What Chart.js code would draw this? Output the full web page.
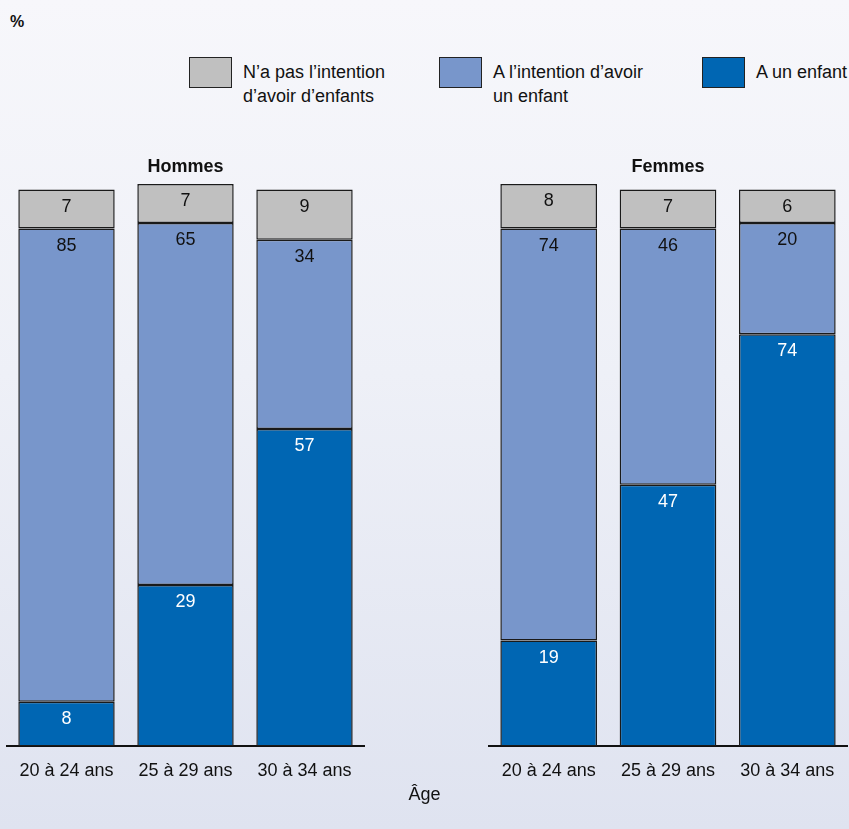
<!DOCTYPE html>
<html>
<head>
<meta charset="utf-8">
<script src="https://cdn.jsdelivr.net/npm/chart.js@4.4.0/dist/chart.umd.min.js"></script>
<style>
  html, body { margin:0; padding:0; }
  body {
    width:849px; height:829px; position:relative; overflow:hidden;
    background: linear-gradient(to bottom, #f7f7fb 0%, #eef0f7 45%, #dfe3f0 100%);
    font-family: "Liberation Sans", Arial, sans-serif;
    color:#111;
  }
  .pct { position:absolute; left:10px; top:13px; font-weight:bold; font-size:16px; }
  .leg { position:absolute; top:57px; display:flex; align-items:flex-start; white-space:nowrap; }
  .leg .box { width:43px; height:31px; border:1.5px solid #222; box-sizing:border-box; margin-right:11px; }
  .leg .txt { font-size:18px; line-height:24px; margin-top:3px; }
  .age { position:absolute; left:0; width:849px; top:784px; text-align:center; font-size:18px; }
  canvas { position:absolute; }
</style>
</head>
<body>
<div class="pct">%</div>
<div id="legend"></div>
<canvas id="hommes" style="left:0px; top:140px;" width="371" height="656"></canvas>
<canvas id="femmes" style="left:482px; top:140px;" width="367" height="656"></canvas>
<div class="age">Âge</div>
<script>
const ages = ["20 à 24 ans", "25 à 29 ans", "30 à 34 ans"];
const seriesNames = ["A un enfant", "A l’intention d’avoir\nun enfant", "N’a pas l’intention\nd’avoir d’enfants"];
const seriesColors = ["#0066b3", "#7896cb", "#c0c0c0"];
const labelColors = ["#ffffff", "#111111", "#111111"];

// Hommes
const hUnEnfant = [8, 29, 57];
const hIntention = [85, 65, 34];
const hPasIntention = [7, 7, 9];
// Femmes
const fUnEnfant = [19, 47, 74];
const fIntention = [74, 46, 20];
const fPasIntention = [8, 7, 6];

const fam = '"Liberation Sans", Arial, sans-serif';

// legend (html, top row)
var legend = document.getElementById("legend");
var legX = [189, 439, 702];
[2, 1, 0].forEach(function(s, i) {
  var d = document.createElement("div");
  d.className = "leg";
  d.style.left = legX[i] + "px";
  d.innerHTML = '<div class="box" style="background:' + seriesColors[s] + '"></div><div class="txt">' +
    seriesNames[s].split("\n").join("<br>") + '</div>';
  legend.appendChild(d);
});

const valueLabels = {
  id: "valueLabels",
  afterDatasetsDraw(chart) {
    const ctx = chart.ctx;
    ctx.save();
    ctx.font = "18px " + fam;
    ctx.textAlign = "center";
    ctx.textBaseline = "middle";
    chart.data.datasets.forEach(function(ds, i) {
      chart.getDatasetMeta(i).data.forEach(function(bar, j) {
        ctx.fillStyle = labelColors[i];
        ctx.fillText(ds.data[j], bar.x, bar.y + 17);
      });
    });
    ctx.restore();
  }
};

function makeChart(id, title, values) {
  new Chart(document.getElementById(id), {
    type: "bar",
    data: {
      labels: ages,
      datasets: values.map(function(v, i) {
        return {
          label: seriesNames[i],
          data: v,
          backgroundColor: seriesColors[i],
          borderColor: "#1a1a1a",
          borderWidth: 1.5,
          borderSkipped: false,
          barPercentage: 0.81,
          categoryPercentage: 1,
          clip: false
        };
      })
    },
    options: {
      responsive: false,
      animation: false,
      layout: { padding: { left: 7, right: id == "hommes" ? 7 : 2, top: 0, bottom: 0 } },
      plugins: {
        legend: { display: false },
        tooltip: { enabled: false },
        title: {
          display: true, text: title, color: "#111",
          font: { family: fam, size: 18, weight: "bold" },
          padding: { top: 16, bottom: 12 }
        }
      },
      scales: {
        x: {
          stacked: true,
          grid: { display: false, drawTicks: false },
          border: { display: true, color: "#111", width: 2 },
          ticks: { color: "#111", padding: 14, font: { family: fam, size: 18 } }
        },
        y: {
          stacked: true, display: false, min: 0, max: 100
        }
      }
    },
    plugins: [valueLabels]
  });
}

makeChart("hommes", "Hommes", [hUnEnfant, hIntention, hPasIntention]);
makeChart("femmes", "Femmes", [fUnEnfant, fIntention, fPasIntention]);
</script>
</body>
</html>
